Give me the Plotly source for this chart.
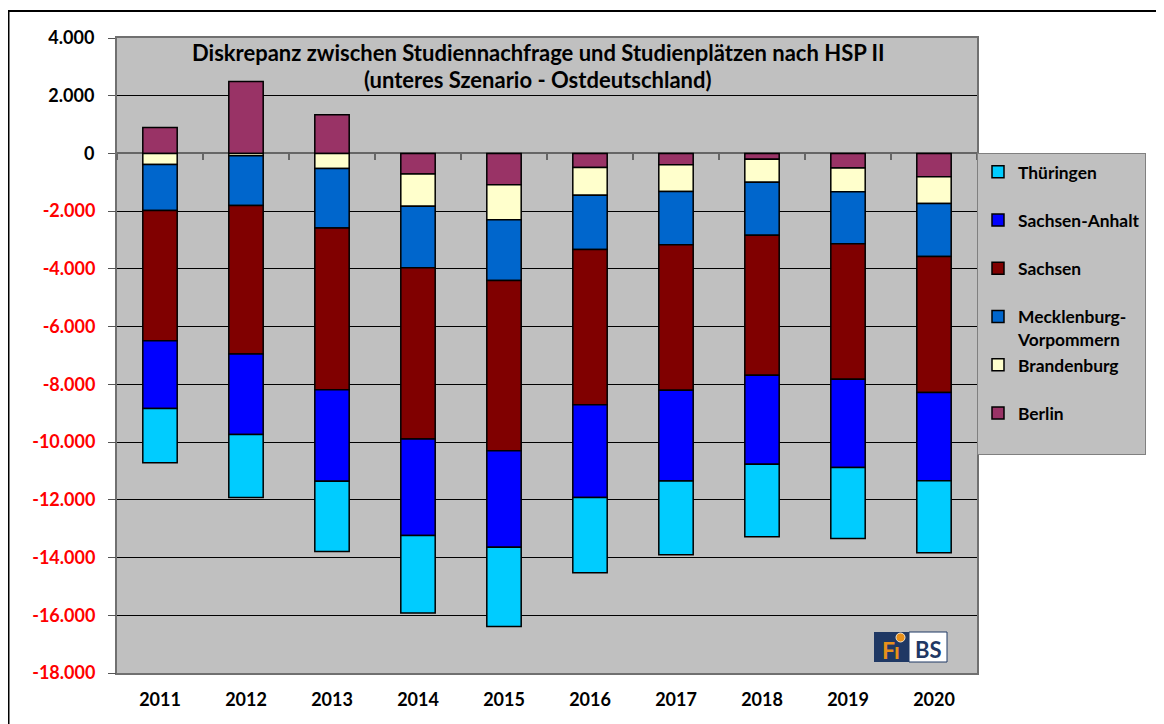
import plotly.graph_objects as go

# --- data ---
years = ["2011", "2012", "2013", "2014", "2015", "2016", "2017", "2018", "2019", "2020"]
berlin = [900, 2490, 1340, -710, -1080, -490, -390, -200, -500, -810]
brandenburg = [-380, -80, -520, -1120, -1220, -960, -930, -800, -830, -920]
meck_vorp = [-1600, -1720, -2060, -2130, -2100, -1880, -1840, -1830, -1800, -1840]
sachsen = [-4510, -5150, -5610, -5930, -5900, -5380, -5040, -4850, -4690, -4710]
sachsen_anhalt = [-2350, -2790, -3170, -3350, -3340, -3210, -3150, -3090, -3060, -3060]
thueringen = [-1880, -2180, -2430, -2680, -2750, -2610, -2550, -2510, -2460, -2490]

pos_ticks = [4000, 2000, 0]
pos_labels = ["4.000", "2.000", "0"]
neg_ticks = [-2000, -4000, -6000, -8000, -10000, -12000, -14000, -16000, -18000]
neg_labels = ["-2.000", "-4.000", "-6.000", "-8.000", "-10.000",
              "-12.000", "-14.000", "-16.000", "-18.000"]

# stacking order: first trace sits next to the zero line; rank = legend position
series = [
    ("Berlin", berlin, "#993366", 6),
    ("Brandenburg", brandenburg, "#FFFFCC", 5),
    ("Mecklenburg-<br>Vorpommern", meck_vorp, "#0066CC", 4),
    ("Sachsen", sachsen, "#800000", 3),
    ("Sachsen-Anhalt", sachsen_anhalt, "#0000FF", 2),
    ("Thüringen", thueringen, "#00CCFF", 1),
]

# page has an 8px body margin, so the figure is shifted by that much
OFF = 8
W, H = 1164 - OFF, 724 - OFF
L, R, T, B = 117, 977, 38, 673  # plot area in screen pixels
FONT = "Lato"
YMIN, YMAX = -18000, 4000


def px(x):
    return (x - L) / (R - L)


def py(y):
    return (B - y) / (B - T)


fig = go.Figure()
for name, vals, col, rank in series:
    label = name if "<br>" in name else name + "<br> "
    fig.add_trace(go.Bar(
        x=years, y=vals, name=label, legendgroup=name, legendrank=rank,
        marker=dict(color=col, line=dict(color="black", width=1.5)),
    ))

# dummy trace so the overlay axes (zero-line ticks, red labels) get drawn
fig.add_trace(go.Scatter(x=years, y=[None] * len(years), xaxis="x2", yaxis="y2",
                         showlegend=False, hoverinfo="skip"))

all_ticks = pos_ticks + neg_ticks
fig.update_layout(
    width=W, height=H,
    margin=dict(l=L - OFF, r=W - (R - OFF), t=T - OFF, b=H - (B - OFF), pad=0),
    barmode="relative", bargap=0.6,
    paper_bgcolor="white", plot_bgcolor="#C0C0C0",
    font=dict(family=FONT, size=18, color="black", weight="bold"),
    xaxis=dict(type="category", range=[-0.5, 9.5], showgrid=False,
               showline=True, linecolor="#707070", linewidth=2, mirror=True,
               ticks="", ticklabelstandoff=9,
               tickfont=dict(family=FONT, size=18, weight="bold")),
    xaxis2=dict(type="category", overlaying="x", anchor="free",
                position=(0 - YMIN) / (YMAX - YMIN), range=[-0.5, 9.5],
                tickson="boundaries", ticks="outside", ticklen=6, tickwidth=2,
                tickcolor="#666666", showticklabels=False, showgrid=False,
                showline=False),
    yaxis=dict(range=[YMIN, YMAX], tickvals=all_ticks,
               ticktext=pos_labels + [""] * len(neg_ticks),
               showgrid=True, gridcolor="black", gridwidth=1,
               zeroline=True, zerolinecolor="#666666", zerolinewidth=2,
               showline=True, linecolor="#707070", linewidth=2, mirror=True,
               ticks="outside", ticklen=7, tickwidth=1, tickcolor="#555555",
               ticklabelstandoff=10,
               tickfont=dict(family=FONT, size=18, color="black", weight="bold")),
    yaxis2=dict(range=[YMIN, YMAX], overlaying="y", anchor="x", side="left",
                tickvals=neg_ticks, ticktext=neg_labels, showgrid=False,
                zeroline=False, showline=False,
                ticks="outside", ticklen=7, tickwidth=1, tickcolor="#555555",
                ticklabelstandoff=10,
                tickfont=dict(family=FONT, size=18, color="#FF0000", weight="bold")),
    legend=dict(x=1.0, xanchor="left", y=py(153), yanchor="top",
                bgcolor="#C0C0C0", bordercolor="#808080", borderwidth=1,
                traceorder="grouped", tracegroupgap=0, valign="top",
                font=dict(family=FONT, size=17.4, weight="bold")),
    showlegend=True,
)

# title inside the plot area
fig.add_annotation(x=px(538), y=py(52), xref="paper", yref="paper",
                   xanchor="center", yanchor="middle",
                   text="Diskrepanz zwischen Studiennachfrage und Studienplätzen nach HSP II",
                   showarrow=False, font=dict(family=FONT, size=22, weight="bold"))
fig.add_annotation(x=px(538), y=py(80), xref="paper", yref="paper",
                   xanchor="center", yanchor="middle",
                   text="(unteres Szenario - Ostdeutschland)",
                   showarrow=False, font=dict(family=FONT, size=22, weight="bold"))

# FiBS logo
fig.add_shape(type="rect", xref="paper", yref="paper",
              x0=px(874), x1=px(909), y0=py(662), y1=py(632),
              fillcolor="#1F3864", line=dict(width=0))
fig.add_shape(type="rect", xref="paper", yref="paper",
              x0=px(909), x1=px(947), y0=py(662), y1=py(632),
              fillcolor="white", line=dict(color="#1F3864", width=1))
fig.add_annotation(x=px(891), y=py(650), xref="paper", yref="paper",
                   xanchor="center", yanchor="middle",
                   text="F\u0131", showarrow=False,
                   font=dict(family=FONT, size=23, color="#E8901A", weight="bold"))
fig.add_shape(type="circle", xref="paper", yref="paper",
              x0=px(896), x1=px(905), y0=py(642), y1=py(633),
              fillcolor="#E8901A", line=dict(color="#F5E6D0", width=1))
fig.add_annotation(x=px(928), y=py(649), xref="paper", yref="paper",
                   xanchor="center", yanchor="middle",
                   text="BS", showarrow=False,
                   font=dict(family=FONT, size=22, color="#1F3864", weight="bold"))

# outer chart border
fig.add_shape(type="rect", xref="paper", yref="paper",
              x0=px(8.5), x1=px(1180), y0=py(740), y1=py(11),
              line=dict(color="black", width=2), fillcolor="rgba(0,0,0,0)")

fig.write_html("out.html")
